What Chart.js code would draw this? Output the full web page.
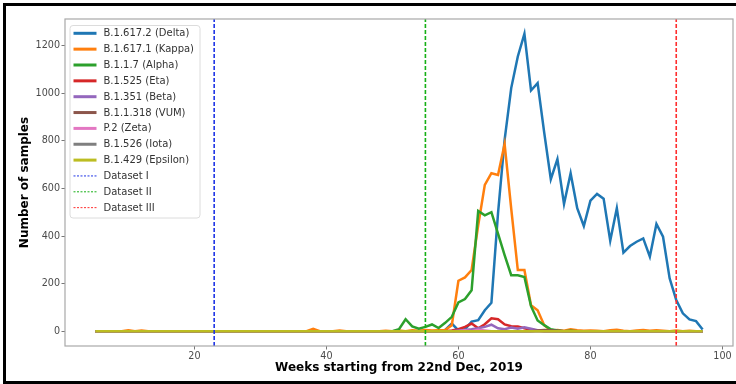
<!DOCTYPE html>
<html>
<head>
<meta charset="utf-8">
<script src="https://cdn.jsdelivr.net/npm/chart.js@4.4.1/dist/chart.umd.min.js"></script>
<style>
  html, body { margin: 0; padding: 0; background: #fff; overflow: hidden; }
  #wrap { position: relative; width: 736px; height: 384px; overflow: hidden; }
  #frame { position: absolute; left: 3px; top: 3px; width: 740px; height: 381px; box-sizing: border-box;
           border: 3px solid #000; pointer-events: none; }
  canvas { position: absolute; left: 0; top: 0; }
</style>
</head>
<body>
<div id="wrap">
  <canvas id="c" width="736" height="384"></canvas>
  <div id="frame"></div>
</div>
<script>
// ---- data ----
const weeks = [
  5,6,7,8,9,
  10,11,12,13,14,15,16,17,18,19,
  20,21,22,23,24,25,26,27,28,29,
  30,31,32,33,34,35,36,37,38,39,
  40,41,42,43,44,45,46,47,48,49,
  50,51,52,53,54,55,56,57,58,59,
  60,61,62,63,64,65,66,67,68,69,
  70,71,72,73,74,75,76,77,78,79,
  80,81,82,83,84,85,86,87,88,89,
  90,91,92,93,94,95,96,97
];
const deltaB16172 = [
  0,0,0,0,0,
  0,0,0,0,0,0,0,0,0,0,
  0,0,0,0,0,0,0,0,0,0,
  0,0,0,0,0,0,0,0,0,0,
  0,0,0,0,0,0,0,0,0,0,
  0,0,0,0,0,0,0,0,5,32,
  3,8,40,46,88,119,495,804,1022,1155,
  1250,1012,1043,835,639,723,535,664,517,442,
  549,577,557,380,517,330,358,376,390,313,
  451,397,222,131,75,49,42,7
];
const kappaB16171 = [
  0,0,0,0,0,
  4,0,3,0,0,0,0,0,0,0,
  0,0,0,0,0,0,0,0,0,0,
  0,0,0,0,0,0,0,0,10,0,
  0,0,3,0,0,0,0,0,0,2,
  0,3,0,4,2,5,3,4,5,25,
  212,226,257,445,615,664,657,787,515,257,
  257,109,88,25,3,5,2,8,4,2,
  3,2,0,4,6,2,0,3,5,2,
  4,2,0,3,0,2,0,0
];
const alphaB117 = [
  0,0,0,0,0,
  0,0,0,0,0,0,0,0,0,0,
  0,0,0,0,0,0,0,0,0,0,
  0,0,0,0,0,0,0,0,0,0,
  0,0,0,0,0,0,0,0,0,0,
  0,8,50,20,10,18,28,13,35,60,
  121,135,172,505,487,500,410,320,235,235,
  228,105,45,25,8,3,0,2,0,0,
  0,0,0,0,0,0,0,0,0,0,
  0,0,0,0,0,0,0,0
];
const etaB1525 = [
  0,0,0,0,0,
  0,0,0,0,0,0,0,0,0,0,
  0,0,0,0,0,0,0,0,0,0,
  0,0,0,0,0,0,0,0,0,0,
  0,0,0,0,0,0,0,0,0,0,
  0,0,0,0,0,0,0,0,0,3,
  8,18,32,12,29,54,50,28,21,20,
  12,6,3,0,0,0,0,0,0,0,
  0,0,0,0,0,0,0,0,0,0,
  0,0,0,0,0,0,0,0
];
const betaB1351 = [
  0,0,0,0,0,
  0,0,0,0,0,0,0,0,0,0,
  0,0,0,0,0,0,0,0,0,0,
  0,0,0,0,0,0,0,0,0,0,
  0,0,0,0,0,0,0,0,0,0,
  0,0,0,0,0,0,0,0,0,0,
  3,5,8,12,18,27,12,8,15,10,
  16,10,4,0,0,0,0,0,0,0,
  0,0,0,0,0,0,0,0,0,0,
  0,0,0,0,0,0,0,0
];
const vumB11318 = [
  0,0,0,0,0,
  0,0,0,0,0,0,0,0,0,0,
  0,0,0,0,0,0,0,0,0,0,
  0,0,0,0,0,0,0,0,0,0,
  0,0,0,0,0,0,0,0,0,0,
  0,0,0,0,0,0,0,0,0,0,
  0,0,0,0,0,0,0,0,0,0,
  0,0,3,5,4,2,0,0,0,0,
  0,0,0,0,0,0,0,0,0,0,
  0,0,0,0,0,0,0,0
];
const zetaP2 = [
  0,0,0,0,0,
  0,0,0,0,0,0,0,0,0,0,
  0,0,0,0,0,0,0,0,0,0,
  0,0,0,0,0,0,0,0,0,0,
  0,0,0,0,0,0,0,0,0,0,
  0,0,0,0,0,0,0,0,0,0,
  0,4,0,6,3,0,0,0,0,0,
  0,0,0,0,0,0,0,0,0,0,
  0,0,0,0,0,0,0,0,0,0,
  0,0,0,0,0,0,0,0
];
const iotaB1526 = [
  0,0,0,0,0,
  0,0,0,0,0,0,0,0,0,0,
  0,0,0,0,0,0,0,0,0,0,
  0,0,0,0,0,0,0,0,0,0,
  0,0,0,0,0,0,0,0,0,0,
  0,0,0,0,0,0,0,0,0,0,
  0,0,0,0,0,0,0,0,0,0,
  0,0,0,0,0,0,0,0,0,0,
  0,0,0,0,0,0,0,0,0,0,
  0,0,0,0,0,0,0,0
];
const epsilonB1429 = [
  0,0,0,0,0,
  0,0,0,0,0,0,0,0,0,0,
  0,0,0,0,0,0,0,0,0,0,
  0,0,0,0,0,0,0,0,0,0,
  0,0,0,0,0,0,0,0,0,0,
  0,0,0,0,0,0,0,0,0,0,
  0,0,0,0,0,0,0,0,0,0,
  0,0,0,0,0,0,0,0,0,0,
  0,0,0,0,0,0,0,0,0,0,
  0,0,0,0,0,0,0,0
];
const seriesLabels = ['B.1.617.2 (Delta)','B.1.617.1 (Kappa)','B.1.1.7 (Alpha)','B.1.525 (Eta)',
  'B.1.351 (Beta)','B.1.1.318 (VUM)','P.2 (Zeta)','B.1.526 (Iota)','B.1.429 (Epsilon)'];
const seriesValues = [deltaB16172, kappaB16171, alphaB117, etaB1525, betaB1351, vumB11318, zetaP2, iotaB1526, epsilonB1429];
const seriesColors = ['#1f77b4','#ff7f0e','#2ca02c','#d62728','#9467bd','#8c564b','#e377c2','#7f7f7f','#bcbd22'];

const markerLabels = ['Dataset I','Dataset II','Dataset III'];
const markerWeeks = [23, 55, 93];
const markerColors = ['#1f35e6','#16b016','#ff2e2e'];

const xTicks = [20, 40, 60, 80, 100];
const yTicks = [0, 200, 400, 600, 800, 1000, 1200];
const xMin = 0.4, xMax = 101.6, yMin = -62.5, yMax = 1312.5;

// ---- build datasets ----
const datasets = [];
seriesValues.forEach((vals, i) => {
  datasets.push({
    label: seriesLabels[i],
    data: weeks.map((w, j) => ({x: w, y: vals[j]})),
    borderColor: seriesColors[i],
    backgroundColor: seriesColors[i],
    borderWidth: 2.5,
    pointRadius: 0,
    tension: 0,
    fill: false,
    order: -i,
    legendWidth: 3
  });
});
markerWeeks.forEach((w, i) => {
  datasets.push({
    label: markerLabels[i],
    data: [{x: w, y: yMin}, {x: w, y: yMax}],
    borderColor: markerColors[i],
    backgroundColor: markerColors[i],
    borderWidth: 1.6,
    borderDash: [4, 2],
    pointRadius: 0,
    fill: false,
    order: -20 - i,
    legendWidth: 1
  });
});

Chart.defaults.font.family = 'DejaVu Sans';

const framePlugin = {
  id: 'frameAndLegend',
  afterDraw(chart) {
    const ctx = chart.ctx;
    const a = chart.chartArea;
    ctx.save();
    // plot frame (spines)
    ctx.strokeStyle = '#a8a8a8';
    ctx.lineWidth = 1.2;
    ctx.setLineDash([]);
    ctx.strokeRect(a.left, a.top, a.right - a.left, a.bottom - a.top);

    // legend
    const bx = 70, by = 25.5, bw = 130, bh = 192.5, r = 3;
    ctx.beginPath();
    ctx.moveTo(bx + r, by);
    ctx.lineTo(bx + bw - r, by); ctx.quadraticCurveTo(bx + bw, by, bx + bw, by + r);
    ctx.lineTo(bx + bw, by + bh - r); ctx.quadraticCurveTo(bx + bw, by + bh, bx + bw - r, by + bh);
    ctx.lineTo(bx + r, by + bh); ctx.quadraticCurveTo(bx, by + bh, bx, by + bh - r);
    ctx.lineTo(bx, by + r); ctx.quadraticCurveTo(bx, by, bx + r, by);
    ctx.closePath();
    ctx.fillStyle = 'rgba(255,255,255,0.85)';
    ctx.fill();
    ctx.strokeStyle = '#dcdcdc';
    ctx.lineWidth = 1;
    ctx.stroke();

    ctx.font = '10px "DejaVu Sans"';
    ctx.textBaseline = 'middle';
    ctx.textAlign = 'left';
    chart.data.datasets.forEach((ds, i) => {
      const yy = 33.3 + i * 15.85;
      ctx.beginPath();
      ctx.setLineDash(ds.borderDash ? [2, 1.5] : []);
      ctx.strokeStyle = ds.borderColor;
      ctx.lineWidth = ds.legendWidth;
      ctx.moveTo(73.5, yy);
      ctx.lineTo(96.5, yy);
      ctx.stroke();
      ctx.setLineDash([]);
      ctx.fillStyle = '#333';
      ctx.fillText(ds.label, 103.5, yy + 0.5);
    });
    ctx.restore();
  }
};

new Chart(document.getElementById('c'), {
  type: 'line',
  data: { datasets },
  plugins: [framePlugin],
  options: {
    responsive: false,
    animation: false,
    devicePixelRatio: 1,
    layout: { padding: { top: 19, right: 3, left: 0, bottom: 0 } },
    plugins: { legend: { display: false }, tooltip: { enabled: false } },
    scales: {
      x: {
        type: 'linear',
        min: xMin, max: xMax,
        afterBuildTicks: s => { s.ticks = xTicks.map(v => ({value: v})); },
        afterFit: s => { s.height = 38; },
        ticks: { font: { size: 9.6 }, color: '#4a4a4a', padding: 1.5, maxRotation: 0, autoSkip: false,
                 callback: v => String(v) },
        grid: { drawOnChartArea: false, drawTicks: true, tickLength: 3.5, tickColor: '#777', tickWidth: 1 },
        border: { display: false },
        title: { display: true, text: 'Weeks starting from 22nd Dec, 2019',
                 font: { size: 12, weight: 'bold' }, color: '#000', padding: { top: 0, bottom: 8.5 } }
      },
      y: {
        type: 'linear',
        min: yMin, max: yMax,
        afterBuildTicks: s => { s.ticks = yTicks.map(v => ({value: v})); },
        afterFit: s => { s.width = 65; },
        ticks: { font: { size: 9.6 }, color: '#4a4a4a', padding: 1.5, callback: v => String(v) },
        grid: { drawOnChartArea: false, drawTicks: true, tickLength: 3.5, tickColor: '#777', tickWidth: 1 },
        border: { display: false },
        title: { display: true, text: 'Number of samples',
                 font: { size: 12, weight: 'bold' }, color: '#000', padding: { top: 17.8, bottom: 0 } }
      }
    }
  }
});
</script>
</body>
</html>
